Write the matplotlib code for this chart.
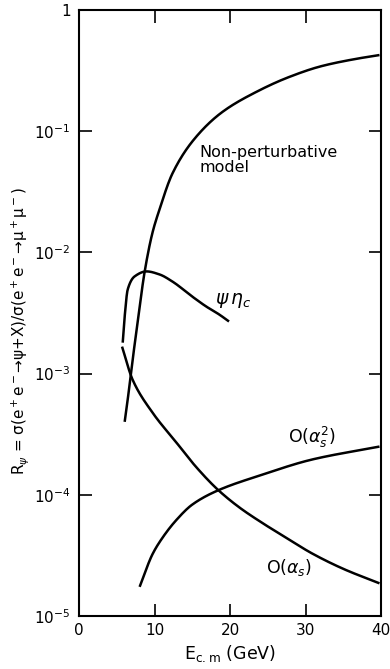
import numpy as np
import matplotlib
matplotlib.use("Agg")
import matplotlib.pyplot as plt

# Non-perturbative model
np_x = [6.05, 6.45, 6.97, 7.8, 8.68, 9.74, 10.66, 12.37, 15.26, 18.95, 23.42, 27.76, 32.1, 36.58, 39.8]
np_y = [4.0e-4, 6.1e-4, 1.12e-3, 2.75e-3, 6.84e-3, 1.46e-2, 2.26e-2, 4.47e-2, 8.6e-2, 0.1435, 0.21, 0.279, 0.344, 0.394, 0.425]

# psi eta_c
pe_x = [5.79, 6.05, 6.45, 7.37, 8.95, 10.66, 12.37, 15.0, 16.84, 18.55, 19.87]
pe_y = [1.80e-3, 2.96e-3, 4.94e-3, 6.34e-3, 6.97e-3, 6.58e-3, 5.75e-3, 4.32e-3, 3.58e-3, 3.08e-3, 2.69e-3]

# O(alpha_s)
a1_x = [5.7, 7.1, 9.7, 12.9, 15.5, 18.4, 21.2, 24.2, 27.5, 30.8, 35.0, 39.8]
a1_y = [1.67e-3, 8.9e-4, 4.8e-4, 2.7e-4, 1.7e-4, 1.1e-4, 7.9e-5, 5.9e-5, 4.4e-5, 3.3e-5, 2.45e-5, 1.86e-5]

# O(alpha_s^2)
a2_x = [8.03, 9.74, 11.0, 12.9, 15.0, 18.3, 24.2, 30.8, 39.8]
a2_y = [1.74e-5, 3.24e-5, 4.37e-5, 6.2e-5, 8.3e-5, 1.08e-4, 1.46e-4, 1.95e-4, 2.5e-4]

x_ticks = [0, 10, 20, 30, 40]
x_tick_labels = ["0", "10", "20", "30", "40"]
y_ticks = [1e-5, 1e-4, 1e-3, 1e-2, 1e-1, 1]
y_tick_labels = [r"$10^{-5}$", r"$10^{-4}$", r"$10^{-3}$", r"$10^{-2}$", r"$10^{-1}$", "1"]


def pchip(x, y, n=300):
    """Shape-preserving cubic through the read points (drawing only)."""
    x = np.asarray(x, float)
    y = np.asarray(y, float)
    h = np.diff(x)
    d = np.diff(y) / h
    m = np.zeros_like(x)
    for k in range(1, len(x) - 1):
        if d[k - 1] * d[k] > 0:
            w1 = 2 * h[k] + h[k - 1]
            w2 = h[k] + 2 * h[k - 1]
            m[k] = (w1 + w2) / (w1 / d[k - 1] + w2 / d[k])
    m[0] = d[0]
    m[-1] = d[-1]
    xs = np.linspace(x[0], x[-1], n)
    idx = np.clip(np.searchsorted(x, xs) - 1, 0, len(x) - 2)
    t = (xs - x[idx]) / h[idx]
    h00 = 2 * t**3 - 3 * t**2 + 1
    h10 = t**3 - 2 * t**2 + t
    h01 = -2 * t**3 + 3 * t**2
    h11 = t**3 - t**2
    ys = h00 * y[idx] + h10 * h[idx] * m[idx] + h01 * y[idx + 1] + h11 * h[idx] * m[idx + 1]
    return xs, ys


plt.rcParams['font.family'] = ['DejaVu Sans']
plt.rcParams['mathtext.fontset'] = 'dejavusans'

fig = plt.figure(figsize=(3.9, 6.69), dpi=100)
ax = fig.add_axes([79/390, 1 - 616/669, (381-79)/390, (616-10)/669])

lw = 1.8
for xs, ys in [(np_x, np_y), (pe_x, pe_y), (a1_x, a1_y), (a2_x, a2_y)]:
    sx, sly = pchip(xs, np.log10(ys))
    ax.plot(sx, 10**sly, color='black', lw=lw, solid_capstyle='butt')

ax.set_yscale('log')
ax.set_xlim(0, 40)
ax.set_ylim(1e-5, 1)
ax.set_xticks(x_ticks)
ax.set_xticklabels(x_tick_labels, fontsize=11)
ax.set_yticks(y_ticks)
ax.set_yticklabels(y_tick_labels, fontsize=11)
ax.minorticks_off()
ax.tick_params(axis='both', direction='in', length=9, width=1.2,
               top=True, right=True, pad=5)
ax.tick_params(axis='y', pad=6)
for s in ax.spines.values():
    s.set_linewidth(1.5)

ax.text(16.0, 10**-1.24, "Non-perturbative\nmodel", fontsize=11.5,
        ha='left', va='center', linespacing=1.0)
ax.text(18.0, 10**-2.40, r"$\psi\,\eta_c$", fontsize=13.5, ha='left', va='center')
ax.text(27.7, 10**-3.53, r"O($\alpha_s^2$)", fontsize=12.5, ha='left', va='center')
ax.text(24.8, 10**-4.6, r"O($\alpha_s$)", fontsize=12.5, ha='left', va='center')

ax.set_xlabel(r"E$_{\mathrm{c.m}}$ (GeV)", fontsize=12.5, labelpad=4)
ax.set_ylabel(r"R$_\psi$ = σ(e$^+$e$^-$→ψ+X)/σ(e$^+$e$^-$→μ$^+$μ$^-$)",
              fontsize=11)
ax.yaxis.set_label_coords(-0.16, 0.47)

fig.savefig("out.png", dpi=100)
